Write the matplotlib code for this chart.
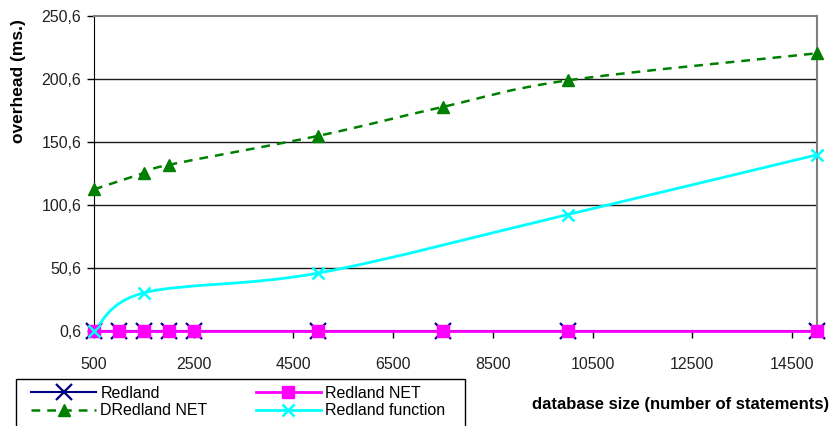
import numpy as np
import matplotlib
matplotlib.use("Agg")
import matplotlib.pyplot as plt
from matplotlib.path import Path
from matplotlib.patches import PathPatch, Rectangle
from matplotlib.lines import Line2D
from matplotlib.ticker import FixedLocator, FuncFormatter

plt.rcParams['font.family'] = ['Liberation Sans', 'DejaVu Sans']

# database sizes (number of statements)
sizes_all = [500, 1000, 1500, 2000, 2500, 5000, 7500, 10000, 15000]
redland = [0.6, 0.6, 0.6, 0.6, 0.6, 0.6, 0.6, 0.6, 0.6]
redland_net = [0.6, 0.6, 0.6, 0.6, 0.6, 0.6, 0.6, 0.6, 0.6]

sizes_dnet = [500, 1500, 2000, 5000, 7500, 10000, 15000]
dredland_net = [113.0, 126.0, 132.5, 155.5, 178.5, 199.5, 221.0]

sizes_func = [500, 1500, 5000, 10000, 15000]
redland_function = [0.6, 30.9, 46.6, 93.0, 140.4]

x_ticks = [500, 2500, 4500, 6500, 8500, 10500, 12500, 14500]
y_ticks = [0.6, 50.6, 100.6, 150.6, 200.6, 250.6]


def smooth_path(xs, ys):
    """Catmull-Rom style bezier path through the points (like a 'smoothed line')."""
    pts = np.column_stack([xs, ys]).astype(float)
    ext = np.vstack([pts[0], pts, pts[-1]])
    verts = [pts[0]]
    codes = [Path.MOVETO]
    for i in range(len(pts) - 1):
        p0, p1, p2, p3 = ext[i], ext[i + 1], ext[i + 2], ext[i + 3]
        c1 = p1 + (p2 - p0) / 6.0
        c2 = p2 - (p3 - p1) / 6.0
        verts += [c1, c2, p2]
        codes += [Path.CURVE4] * 3
    return Path(verts, codes)


W, H = 831, 426
fig = plt.figure(figsize=(W / 100, H / 100), dpi=100)
ax = fig.add_axes([94 / W, 1 - 331 / H, (817 - 94) / W, (331 - 16) / H])

ax.set_xlim(500, 15000)
ax.set_ylim(0.6, 250.6)

for y in y_ticks[1:-1]:
    ax.axhline(y, color='#1a1a1a', lw=1.0, zorder=1)

# Redland and Redland NET sit on top of each other
ax.plot(sizes_all, redland, color='#000080', lw=1.5, marker='x', ms=12, mew=1.6,
        zorder=3, clip_on=False)
ax.plot(sizes_all, redland_net, color='#FF00FF', lw=2.0, marker='s', ms=9,
        zorder=4, clip_on=False)

ax.add_patch(PathPatch(smooth_path(sizes_dnet, dredland_net), fill=False,
                       edgecolor='#008000', lw=1.8, linestyle=(0, (3.5, 2.8)), zorder=3))
ax.plot(sizes_dnet, dredland_net, ls='none', color='#008000', marker='^', ms=9,
        zorder=5, clip_on=False)

ax.add_patch(PathPatch(smooth_path(sizes_func, redland_function), fill=False,
                       edgecolor='#00FFFF', lw=2.0, zorder=3))
ax.plot(sizes_func, redland_function, ls='none', color='#00FFFF', marker='x', ms=9,
        mew=1.8, zorder=5, clip_on=False)

ax.xaxis.set_major_locator(FixedLocator(x_ticks))
ax.yaxis.set_major_locator(FixedLocator(y_ticks))
ax.yaxis.set_major_formatter(FuncFormatter(lambda v, p: f"{v:.1f}".replace('.', ',')))
ax.tick_params(axis='x', direction='out', length=5, width=1, pad=14, labelsize=11.5)
ax.tick_params(axis='y', direction='out', length=5, width=1, pad=4, labelsize=11.5)
for t in ax.get_xticklabels() + ax.get_yticklabels():
    t.set_color('#222222')

ax.spines['left'].set_color('black')
ax.spines['bottom'].set_color('black')
ax.spines['top'].set_color('#808080')
ax.spines['right'].set_color('#808080')
ax.spines['top'].set_linewidth(1.5)
ax.spines['right'].set_linewidth(1.5)

fig.text(19 / W, 1 - 81 / H, 'overhead (ms.)', rotation=90, ha='center', va='center',
         fontsize=12.5, fontweight='bold')
fig.text(829 / W, 1 - 405 / H, 'database size (number of statements)', ha='right',
         va='center', fontsize=12, fontweight='bold')

# legend box runs off the bottom edge
fig.patches.append(Rectangle((16 / W, -0.05), (465 - 16) / W, 0.05 + (426 - 379) / H,
                             transform=fig.transFigure, fill=False,
                             edgecolor='black', lw=1.0))

handles = [
    Line2D([], [], color='#000080', lw=1.5, marker='x', ms=12, mew=1.6),
    Line2D([], [], color='#008000', lw=1.8, ls=(0, (3.5, 2.8)), marker='^', ms=9),
    Line2D([], [], color='#FF00FF', lw=2.0, marker='s', ms=9),
    Line2D([], [], color='#00FFFF', lw=2.0, marker='x', ms=9, mew=1.8),
]
labels = ['Redland', 'DRedland NET', 'Redland NET', 'Redland function']
fig.legend(handles, labels, ncol=2, loc='upper left',
           bbox_to_anchor=(31 / W, 1 - 386 / H), fontsize=11.5, frameon=False,
           handlelength=4.1, handletextpad=0.25, columnspacing=3.0,
           labelspacing=0.15, borderpad=0, borderaxespad=0)

fig.savefig('out.png', dpi=100)
